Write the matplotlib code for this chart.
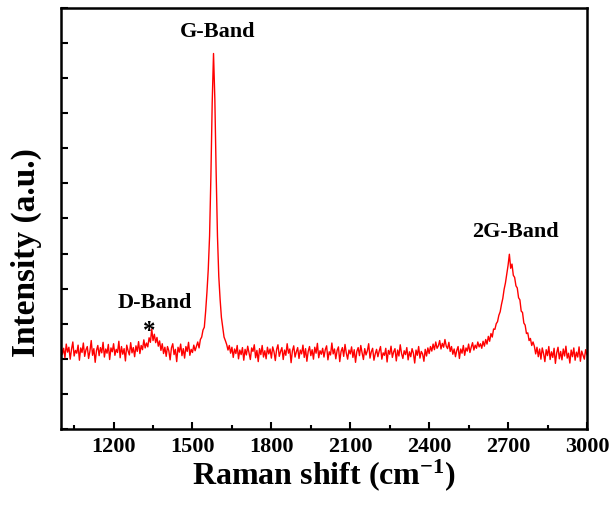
import numpy as np
import matplotlib.pyplot as plt
from matplotlib.ticker import MultipleLocator, NullFormatter

# Raman spectrum, sampled every 5 cm-1 from 1000 to 3000
shift_start = 1000
shift_stop = 3000
shift_step = 5

intensity = [
    2.36, 2.13, 2.30, 2.03, 2.42, 2.19, 2.33, 1.99, 2.27, 2.48, 2.08, 2.24, 2.16, 2.39, 1.96, 2.31, 2.18, 2.45, 2.07, 2.26,
    2.35, 2.01, 2.22, 2.52, 2.10, 2.29, 1.90, 2.24, 2.38, 2.09, 2.32, 2.17, 2.47, 2.05, 2.28, 2.16, 2.41, 1.98, 2.31, 2.20,
    2.43, 2.10, 2.27, 2.18, 2.50, 2.03, 2.35, 2.13, 2.29, 1.94, 2.39, 2.23, 2.11, 2.46, 2.17, 2.32, 2.06, 2.37, 2.21, 2.49,
    2.15, 2.38, 2.26, 2.54, 2.31, 2.45, 2.34, 2.60, 2.47, 2.85, 2.52, 2.70, 2.46, 2.61, 2.36, 2.51, 2.24, 2.43, 2.15, 2.33,
    2.07, 2.35, 2.23, 1.97, 2.31, 2.43, 2.12, 2.27, 1.92, 2.33, 2.19, 2.42, 2.09, 2.29, 2.02, 2.35, 2.21, 2.47, 2.10, 2.27,
    2.18, 2.39, 2.23, 2.35, 2.48, 2.31, 2.55, 2.62, 2.82, 2.90, 3.35, 3.90, 4.55, 5.50, 7.20, 9.30, 10.70, 9.40, 7.30, 5.50,
    4.35, 3.70, 3.18, 2.90, 2.62, 2.52, 2.41, 2.25, 2.38, 2.16, 2.33, 2.04, 2.28, 2.15, 2.38, 2.00, 2.25, 2.12, 2.32, 1.96,
    2.27, 2.11, 2.36, 2.17, 1.98, 2.31, 2.21, 2.40, 2.03, 2.24, 1.92, 2.29, 2.12, 2.38, 2.05, 2.23, 2.00, 2.33, 2.14, 2.28,
    2.02, 2.34, 2.20, 1.95, 2.27, 2.40, 2.07, 2.21, 2.32, 1.98, 2.25, 2.10, 2.43, 2.16, 2.28, 1.89, 2.23, 2.37, 2.05, 2.20,
    2.32, 2.01, 2.25, 2.14, 2.39, 2.04, 2.29, 1.93, 2.21, 2.35, 2.09, 2.26, 1.99, 2.33, 2.16, 2.44, 2.03, 2.23, 2.13, 2.30,
    2.05, 2.26, 2.37, 1.97, 2.20, 2.11, 2.45, 2.14, 2.28, 2.00, 2.24, 2.34, 1.92, 2.21, 2.32, 2.07, 2.41, 2.16, 1.99, 2.25,
    2.14, 2.34, 2.04, 2.26, 1.90, 2.21, 2.32, 2.09, 2.38, 2.17, 1.98, 2.29, 2.11, 2.23, 2.43, 2.02, 2.20, 2.30, 1.96, 2.14,
    2.27, 2.06, 2.22, 2.35, 1.99, 2.17, 2.10, 2.30, 1.91, 2.24, 2.13, 2.36, 2.04, 2.20, 2.29, 1.94, 2.25, 2.08, 2.40, 2.15,
    2.01, 2.23, 2.12, 2.32, 1.97, 2.20, 2.06, 2.29, 2.16, 1.88, 2.25, 2.10, 2.35, 2.02, 2.21, 2.14, 1.93, 2.27, 2.08, 2.31,
    2.15, 2.35, 2.22, 2.42, 2.26, 2.48, 2.30, 2.37, 2.52, 2.28, 2.44, 2.33, 2.55, 2.36, 2.29, 2.47, 2.21, 2.35, 2.13, 2.28,
    2.06, 2.24, 2.35, 2.01, 2.28, 2.16, 2.38, 2.10, 2.31, 2.22, 2.42, 2.18, 2.33, 2.46, 2.25, 2.39, 2.30, 2.48, 2.34, 2.43,
    2.30, 2.50, 2.36, 2.55, 2.42, 2.64, 2.50, 2.72, 2.62, 2.85, 2.84, 3.00, 3.06, 3.24, 3.34, 3.55, 3.72, 3.98, 4.16, 4.42,
    4.66, 4.98, 4.58, 4.70, 4.38, 4.32, 4.08, 4.02, 3.74, 3.68, 3.36, 3.32, 3.02, 2.96, 2.72, 2.74, 2.52, 2.58, 2.38, 2.48,
    2.36, 2.14, 2.33, 2.06, 2.28, 1.99, 2.31, 2.15, 1.92, 2.26, 2.09, 2.35, 1.98, 2.20, 2.04, 2.30, 1.87, 2.17, 2.33, 2.00,
    2.21, 1.97, 2.28, 2.08, 2.36, 2.02, 2.16, 1.88, 2.25, 2.06, 2.31, 1.96, 2.19, 2.05, 2.34, 1.93, 2.22, 2.10, 1.99, 2.26,
    2.12,
]
shift = np.arange(shift_start, shift_stop + 1, shift_step)

x_ticks = [1200, 1500, 1800, 2100, 2400, 2700, 3000]
band_labels = ['G-Band', 'D-Band', '2G-Band']
band_pos = [(1597, 11.3), (1357, 3.59), (2728, 5.61)]
star_pos = (1334, 2.78)

plt.rcParams['font.family'] = ['Liberation Serif', 'DejaVu Serif']
plt.rcParams['font.weight'] = 'bold'
plt.rcParams['mathtext.fontset'] = 'custom'
plt.rcParams['mathtext.rm'] = 'Liberation Serif:bold'
plt.rcParams['mathtext.bf'] = 'Liberation Serif:bold'
plt.rcParams['mathtext.default'] = 'bf'

fig = plt.figure(figsize=(6.13, 5.08), dpi=100)
ax = fig.add_axes([0.0995, 0.1555, 0.858, 0.829])

ax.plot(shift, intensity, color='red', lw=1.0)

ax.set_xlim(1000, 3000)
ax.set_ylim(0, 12)
ax.set_xticks(x_ticks)
ax.xaxis.set_minor_locator(MultipleLocator(150))
ax.yaxis.set_major_locator(MultipleLocator(1))
ax.yaxis.set_major_formatter(NullFormatter())
ax.tick_params(which='both', direction='in', width=1.5)
ax.tick_params(which='major', length=5)
ax.tick_params(which='minor', length=3)
ax.tick_params(axis='x', labelsize=16, pad=6)
for s in ax.spines.values():
    s.set_linewidth(1.8)

for lab, (bx, by) in zip(band_labels, band_pos):
    ax.text(bx, by, lab, ha='center', va='center', fontsize=16, fontweight='bold')
ax.text(star_pos[0], star_pos[1], '*', ha='center', va='center', fontsize=18, fontweight='bold')

ax.set_xlabel('Raman shift (cm$^{-1}$)', fontsize=23, fontweight='bold', labelpad=0)
ax.set_ylabel('Intensity (a.u.)', fontsize=24, fontweight='bold', va='center')
ax.yaxis.set_label_coords(-0.066, 0.418)

fig.savefig('out.png', dpi=100)
